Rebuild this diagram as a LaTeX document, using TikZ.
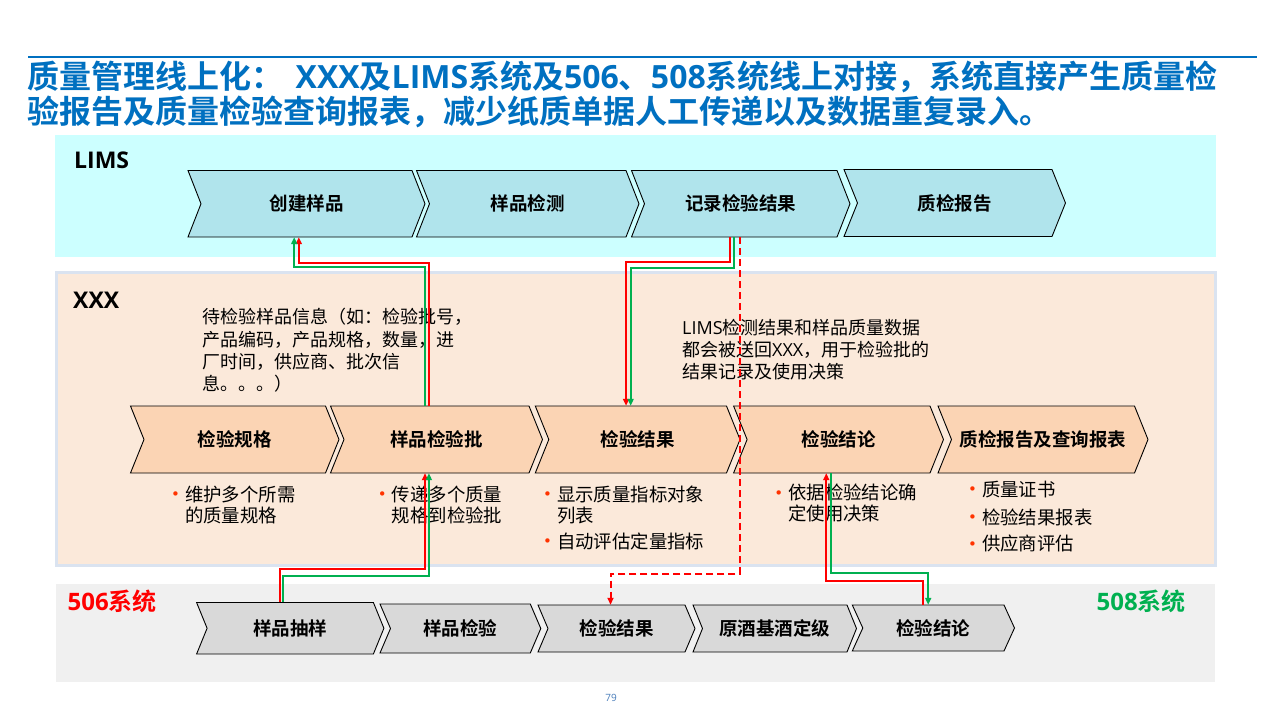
\documentclass[tikz,border=0pt]{standalone}
\usepackage{fontspec}
\setmainfont{Noto Sans CJK SC}[BoldFont={Noto Sans CJK SC Bold}]
\newfontfamily\dejavu{DejaVu Sans}
\newfontfamily\latfont{Open Sans}
\newcommand\lat[1]{{\latfont #1}}
\usetikzlibrary{arrows.meta,calc}
\definecolor{titleblue}{HTML}{0070C0}
\definecolor{limsbg}{HTML}{CCFFFF}
\definecolor{limschev}{HTML}{B0E4EC}
\definecolor{xxxbg}{HTML}{FBE9DA}
\definecolor{xxxborder}{HTML}{DAE3F0}
\definecolor{xxxchev}{HTML}{FBD4B4}
\definecolor{sysbg}{HTML}{F0F0F0}
\definecolor{syschev}{HTML}{D9D9D9}
\definecolor{bulc}{HTML}{FF3300}
\definecolor{linkred}{HTML}{FF0000}
\definecolor{linkgreen}{HTML}{00B050}
\definecolor{pagec}{HTML}{4A7EBB}

\newcommand\bul{\makebox[13.9pt][l]{\raisebox{1.2pt}{\textcolor{bulc}{\dejavu\fontsize{15}{15}\selectfont •}}}}
\newcommand\ind{\hspace*{13.9pt}}
\newcommand\fst{\rule{0pt}{0.9em}}

% name, left x, top y, right x (top corner), bottom y, point depth, fill, label
\newcommand\chevron[8]{%
  \pgfmathsetmacro\cvM{(#3+#5)/2}%
  \pgfmathsetmacro\cvR{#4+#6}%
  \pgfmathsetmacro\cvL{#2+#6}%
  \pgfmathsetmacro\cvW{#4-#2}%
  \pgfmathsetmacro\cvH{#5-#3}%
  \pgfmathsetmacro\cvC{(\cvL+#4)/2}%
  \draw[chevline,fill=#7] (#2,#3) -- (#4,#3) -- (\cvR,\cvM) -- (#4,#5) -- (#2,#5) -- (\cvL,\cvM) -- cycle;
  \node[chevlabel,minimum width=\cvW pt,minimum height=\cvH pt] (#1) at (\cvC,\cvM) {#8};
}

\begin{document}
\begin{tikzpicture}[x=1pt,y=-1pt,
  chevline/.style={draw=black,line width=0.9},
  chevlabel/.style={inner sep=0,font=\bfseries\fontsize{18.5}{20}\selectfont,text=black},
  titletxt/.style={anchor=base west,inner sep=0,font=\bfseries\fontsize{32}{35}\selectfont,text=titleblue},
  sectlabel/.style={anchor=base west,inner sep=0,font=\bfseries\fontsize{23}{25}\selectfont,text=black},
  syslabel/.style={anchor=base west,inner sep=0,font=\bfseries\fontsize{24}{26}\selectfont},
  infotxt/.style={anchor=north west,inner sep=0,align=left,font=\fontsize{18}{22.3}\selectfont,text=black},
  bultxt/.style={anchor=north west,inner sep=0,align=left,font=\fontsize{18.4}{21}\selectfont,text=black},
  redlink/.style={draw=linkred,line width=2,-{Triangle[length=7pt,width=6pt]}},
  greenlink/.style={draw=linkgreen,line width=2,-{Triangle[length=7pt,width=6pt]}},
  dashlink/.style={draw=linkred,line width=2,dash pattern=on 7pt off 4pt,-{Triangle[length=7pt,width=6pt]}},
  pagenum/.style={inner sep=0,font=\latfont\fontsize{10}{12}\selectfont,text=pagec}]
\useasboundingbox (0,0) rectangle (1280,720);
\fill[white] (0,0) rectangle (1280,720);

% title
\draw[titleblue,line width=1.2] (28,57) -- (1257,57);
\node[titletxt] (title1) at (27.5,88) {质量管理线上化：\hspace{12pt}\lat{XXX}及\lat{LIMS}系统及\lat{506}、\lat{508}系统线上对接，系统直接产生质量检};
\node[titletxt] (title2) at (27.5,123) {验报告及质量检验查询报表，减少纸质单据人工传递以及数据重复录入。};

% panels
\fill[limsbg] (54.5,135) rectangle (1216,257.3);
\draw[xxxborder,line width=3,fill=xxxbg] (56,272) rectangle (1215,565);
\fill[sysbg] (55.5,584) rectangle (1215,681.7);

% section labels
\node[sectlabel] (limsL) at (74,168.3) {\lat{LIMS}};
\node[sectlabel] (xxxL) at (73,308) {\lat{XXX}};
\node[syslabel,text=linkred] (s506) at (67.5,610) {\lat{506}系统};
\node[syslabel,text=linkgreen] (s508) at (1096.5,610) {\lat{508}系统};

% LIMS chevrons
\chevron{l1}{188}{170.5}{412}{237}{13}{limschev}{创建样品}
\chevron{l2}{416.5}{170.5}{626}{237}{13}{limschev}{样品检测}
\chevron{l3}{631.5}{170.5}{837}{237}{13}{limschev}{记录检验结果}
\chevron{l4}{844}{169.5}{1052}{236.5}{13.5}{limschev}{质检报告}

% XXX chevrons
\chevron{pA}{130.5}{406}{325.5}{473}{13.5}{xxxchev}{检验规格}
\chevron{pB}{330.5}{406}{529}{473}{13.5}{xxxchev}{样品检验批}
\chevron{pC}{535.3}{406}{726.5}{473}{13.5}{xxxchev}{检验结果}
\chevron{pD}{733.6}{406}{930}{473}{13.5}{xxxchev}{检验结论}
\chevron{pE}{938}{406}{1134.5}{473}{13.5}{xxxchev}{质检报告及查询报表}

% 506 / 508 chevrons
\chevron{b1}{196.6}{602.5}{373.4}{654}{10.5}{syschev}{样品抽样}
\chevron{b2}{380}{604}{530.3}{653}{10.5}{syschev}{样品检验}
\chevron{b3}{538}{605}{685}{652}{10}{syschev}{检验结果}
\chevron{b4}{693}{605}{847}{652}{9.5}{syschev}{原酒基酒定级}
\chevron{b5}{852.3}{605}{1004}{651}{10.5}{syschev}{检验结论}

% texts
\node[infotxt] (info1) at (202,307.3) {\fst 待检验样品信息（如：检验批号，\\产品编码，产品规格，数量，进\\厂时间，供应商、批次信\\息。。。）};
\node[infotxt] (info2) at (682,317.9) {\fst \lat{LIMS}检测结果和样品质量数据\\都会被送回\lat{XXX}，用于检验批的\\结果记录及使用决策};

\node[bultxt] (tA) at (171,484.4) {\fst\bul 维护多个所需\\\ind 的质量规格};
\node[bultxt] (tB) at (377.7,484.4) {\fst\bul 传递多个质量\\\ind 规格到检验批};
\node[bultxt] (tC) at (543,484.4) {\fst\bul 显示质量指标对象\\\ind 列表\\[5pt]\bul 自动评估定量指标};
\node[bultxt] (tD) at (774.2,483.1) {\fst\bul 依据检验结论确\\\ind 定使用决策};
\node[bultxt] (tE) at (968,479.4) {\fst\bul 质量证书\\[7pt]\bul 检验结果报表\\[5.5pt]\bul 供应商评估};

\node[pagenum] (pg) at (611,698) {79};

% connectors
% 样品检验批 -> 创建样品
\draw[redlink] ([xshift=-7.6]pB.north) -- ++(0,-143) -| ([xshift=-7.7]l1.south);
\draw[greenlink] ([xshift=-11.5]pB.north) -- ++(0,-139) -| ([xshift=-12.3]l1.south);
% 记录检验结果 -> 检验结果
\draw[redlink] ([xshift=-11]l3.south) -- ++(0,24.7) -| ([xshift=-11.6]pC.north);
\draw[greenlink] ([xshift=-6.35]l3.south) -- ++(0,30.3) -| ([xshift=-7]pC.north);
% 记录检验结果 -> 506 检验结果 (dashed)
\draw[dashlink] ([xshift=-0.75]l3.south) -- ++(0,336.3) -| ([xshift=-6]b3.north);
% 样品抽样 -> 样品检验批
\draw[redlink] ([xshift=-10.6]b1.north) -- ++(0,-33.2) -| ([xshift=-11.5]pB.south);
\draw[greenlink] ([xshift=-6.85]b1.north) -- ++(0,-26.5) -| ([xshift=-7.6]pB.south);
% 检验结论 <-> 检验结论
\draw[redlink] ([xshift=-10]b5.north) -- ++(0,-24.3) -| ([xshift=-12.3]pD.south);
\draw[greenlink] ([xshift=-7.2]pD.south) -- ++(0,99.7) -| ([xshift=-5.2]b5.north);
\end{tikzpicture}
\end{document}
